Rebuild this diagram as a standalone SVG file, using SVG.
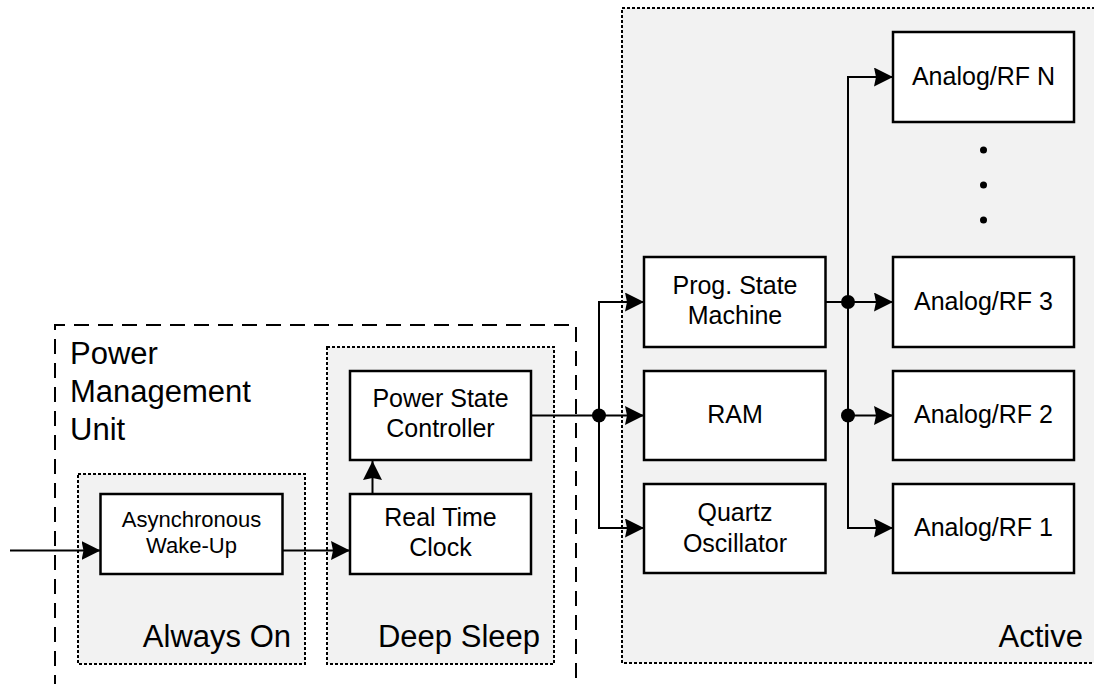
<svg xmlns="http://www.w3.org/2000/svg" width="1094" height="684" viewBox="0 0 1094 684">
<style>
.box{fill:#fff;stroke:#000;stroke-width:2.5}
.cont{fill:#f2f2f2;stroke:#000;stroke-width:2;stroke-dasharray:3 2}
.pmu{fill:none;stroke:#000;stroke-width:2;stroke-dasharray:15 9}
.t{font-family:"Liberation Sans",Arial,sans-serif;font-size:25px;fill:#000;text-anchor:middle}
.s{font-size:22px}
.big{font-family:"Liberation Sans",Arial,sans-serif;font-size:31px;fill:#000}
.end{text-anchor:end}
.c{fill:none;stroke:#000;stroke-width:2}
.a{marker-end:url(#ah)}
</style>
<defs>
<marker id="ah" markerUnits="userSpaceOnUse" markerWidth="19" markerHeight="19" refX="19" refY="9.5" orient="auto" viewBox="0 0 19 19">
<path d="M0,0 L19,9.5 L0,19 L2,9.5 z" fill="#000"/>
</marker>
</defs>
<rect width="1094" height="684" fill="#fff"/>

<g id="pmu">
<path class="pmu" d="M55,690 V325 H576 V690"/>
<text class="big" x="70" y="364">Power</text>
<text class="big" x="70" y="402">Management</text>
<text class="big" x="70" y="440">Unit</text>
</g>
<g id="always-on">
<rect class="cont" x="78" y="474" width="227" height="190"/>
<text class="big end" x="291" y="647">Always On</text>
</g>
<g id="deep-sleep">
<rect class="cont" x="327" y="347" width="227" height="317"/>
<text class="big end" x="540" y="647">Deep Sleep</text>
</g>
<g id="active">
<rect class="cont" x="622" y="8" width="480" height="655"/>
<text class="big end" x="1083" y="647">Active</text>
</g>

<g id="connectors">
<path class="c a" d="M10,550.5 H100.5"/>
<path class="c a" d="M282.5,550.5 H350"/>
<path class="c a" d="M372.5,494 V461"/>
<path class="c a" d="M531,415.5 H644"/>
<path class="c a" d="M599,415.5 V302 H644"/>
<path class="c a" d="M599,415.5 V528 H644"/>
<path class="c a" d="M825.5,302 H893"/>
<path class="c a" d="M848,302 V77 H893"/>
<path class="c a" d="M848,302 V528 H893"/>
<path class="c a" d="M848,415.5 H893"/>
<circle cx="599" cy="415.5" r="7"/>
<circle cx="848" cy="302" r="7"/>
<circle cx="848" cy="415.5" r="7"/>
</g>

<g id="async">
<rect class="box" x="100.5" y="494" width="182" height="80"/>
<text class="t s" x="191.5" y="527">Asynchronous</text>
<text class="t s" x="191.5" y="553">Wake-Up</text>
</g>
<g id="psc">
<rect class="box" x="350" y="371" width="181" height="89"/>
<text class="t" x="440.5" y="407">Power State</text>
<text class="t" x="440.5" y="437">Controller</text>
</g>
<g id="rtc">
<rect class="box" x="350" y="494" width="181" height="80"/>
<text class="t" x="440.5" y="526">Real Time</text>
<text class="t" x="440.5" y="556">Clock</text>
</g>
<g id="psm">
<rect class="box" x="644" y="257" width="181.5" height="90"/>
<text class="t" x="735" y="294">Prog. State</text>
<text class="t" x="735" y="324">Machine</text>
</g>
<g id="ram">
<rect class="box" x="644" y="371" width="181.5" height="89"/>
<text class="t" x="735" y="423">RAM</text>
</g>
<g id="quartz">
<rect class="box" x="644" y="484" width="181.5" height="89"/>
<text class="t" x="735" y="521">Quartz</text>
<text class="t" x="735" y="552">Oscillator</text>
</g>
<g id="rfN">
<rect class="box" x="893" y="32" width="181" height="90"/>
<text class="t" x="983.5" y="85">Analog/RF N</text>
</g>
<g id="ellipsis">
<circle cx="983.5" cy="150" r="3.5"/>
<circle cx="983.5" cy="185" r="3.5"/>
<circle cx="983.5" cy="220" r="3.5"/>
</g>
<g id="rf3">
<rect class="box" x="893" y="257" width="181" height="90"/>
<text class="t" x="983.5" y="310">Analog/RF 3</text>
</g>
<g id="rf2">
<rect class="box" x="893" y="371" width="181" height="89"/>
<text class="t" x="983.5" y="423">Analog/RF 2</text>
</g>
<g id="rf1">
<rect class="box" x="893" y="484" width="181" height="89"/>
<text class="t" x="983.5" y="536">Analog/RF 1</text>
</g>
</svg>
